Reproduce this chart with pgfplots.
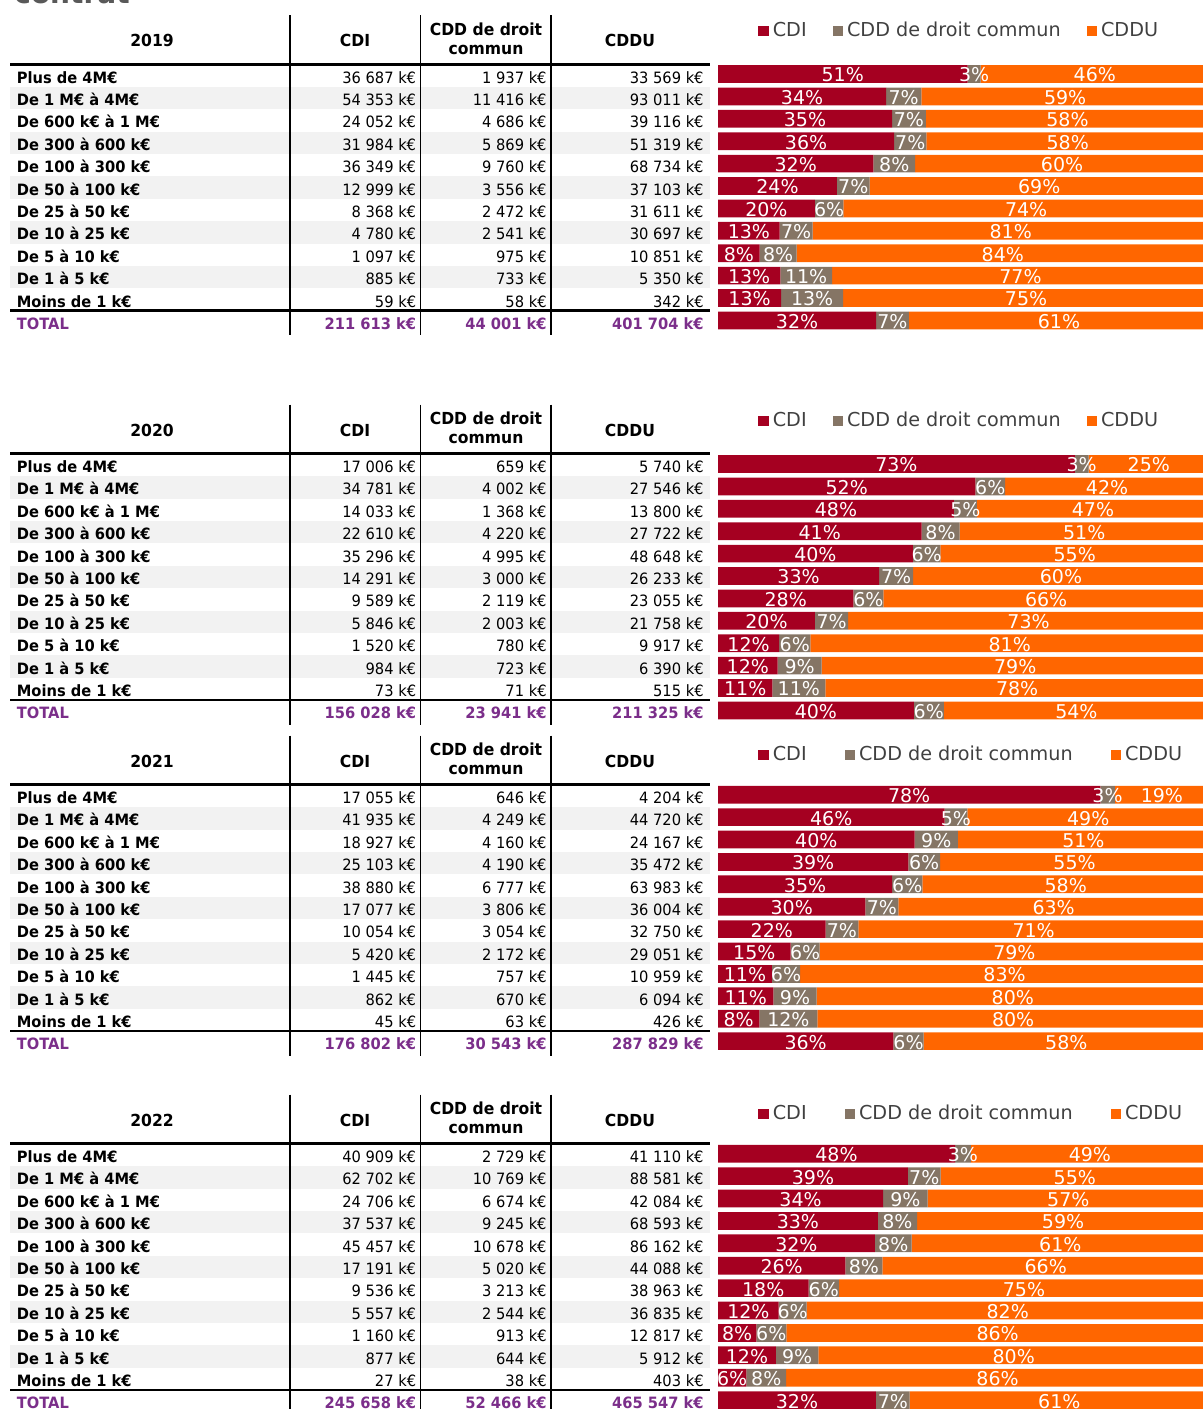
\documentclass[border=0pt]{standalone}
\usepackage{pgfplots}
\pgfplotsset{compat=1.18}
\usepackage{fontspec}
\setmainfont{DejaVu Sans}
\newfontfamily\tabfont{DejaVu Sans}[FakeStretch=0.94]
\definecolor{cdi}{HTML}{A50021}
\definecolor{cdd}{HTML}{857565}
\definecolor{cddu}{HTML}{FF6600}
\definecolor{rowshade}{HTML}{F2F2F2}
\definecolor{totc}{HTML}{7B2E8A}
\definecolor{legtxt}{HTML}{404040}
\definecolor{titc}{HTML}{595959}

\newcommand{\rowfont}{\tabfont\bfseries\fontsize{7.8}{9}\selectfont}
\newcommand{\valfont}{\tabfont\fontsize{7.8}{9}\selectfont}
\newcommand{\headfont}{\tabfont\bfseries\fontsize{8.3}{9}\selectfont}

% #1 = y (px) of first row text centre, #2 = year
\newcommand{\tableframe}[2]{%
  \foreach \k in {1,3,5,7,9}{%
    \fill[rowshade] (10,{#1-13+\k*22.4}) rectangle (710,{#1-13+(\k+1)*22.4});}
  \draw[line width=1.3pt] (10,#1-13) -- (710,#1-13);
  \draw[line width=1.3pt] (10,{#1-13+11*22.4}) -- (710,{#1-13+11*22.4});
  \foreach \xx in {290,420.5,551}{\draw[line width=0.6pt] (\xx,#1-62) -- (\xx,{#1+11*22.4+11.5});}
  \node[font=\headfont,anchor=center,inner sep=0pt] at (152,#1-36.5) {#2};
  \node[font=\headfont,anchor=center,inner sep=0pt] at (355,#1-36.5) {CDI};
  \node[font=\headfont,anchor=center,inner sep=0pt] at (486,#1-48.3) {CDD de droit};
  \node[font=\headfont,anchor=center,inner sep=0pt] at (486,#1-27.3) {commun};
  \node[font=\headfont,anchor=center,inner sep=0pt] at (630,#1-36.5) {CDDU};
}
\newcommand{\tablerows}[2]{%
  \foreach \lab/\a/\b/\c [count=\i from 0] in {#2}{%
    \node[anchor=base west,inner sep=0pt,font=\rowfont] at (16.5,{#1+5.7+\i*22.4}) {\lab};
    \node[anchor=base east,inner sep=0pt,font=\valfont] at (416.5,{#1+5.7+\i*22.4}) {\a\ k€};
    \node[anchor=base east,inner sep=0pt,font=\valfont] at (547,{#1+5.7+\i*22.4}) {\b\ k€};
    \node[anchor=base east,inner sep=0pt,font=\valfont] at (704,{#1+5.7+\i*22.4}) {\c\ k€};
  }}
\newcommand{\totalrow}[4]{%
  \node[anchor=base west,inner sep=0pt,font=\rowfont,text=totc] at (16.5,{#1+5.7+11*22.4}) {TOTAL};
  \node[anchor=base east,inner sep=0pt,font=\rowfont,text=totc] at (416.5,{#1+5.7+11*22.4}) {#2\ k€};
  \node[anchor=base east,inner sep=0pt,font=\rowfont,text=totc] at (547,{#1+5.7+11*22.4}) {#3\ k€};
  \node[anchor=base east,inner sep=0pt,font=\rowfont,text=totc] at (704,{#1+5.7+11*22.4}) {#4\ k€};
}

\pgfplotsset{
  sqlegend/.style={legend image code/.code={\fill[##1] (0pt,-2.6pt) rectangle (5.2pt,2.6pt);}},
  barblock/.style={
    xbar stacked, scale only axis,
    width=245.5pt, height=134.4pt,
    xmin=0, xmax=100, ymin=-0.5, ymax=11.5, y dir=reverse,
    axis lines=none, bar width=8.85pt,
    clip=false,
    point meta=rawx,
    nodes near coords={\pgfmathprintnumber[fixed,precision=0,assume math mode=true]{\pgfplotspointmeta}\%},
    every node near coord/.append style={font=\fontsize{9.5}{10}\selectfont, text=white, anchor=center, yshift=-0.5pt, inner sep=0pt},
    legend style={draw=none, fill=none, anchor=west, legend columns=-1,
      font=\fontsize{9.6}{11}\selectfont, text=legtxt,
      /tikz/every even column/.append style={column sep=11pt}},
  },
}

\begin{document}
\begin{tikzpicture}
\useasboundingbox (0,0) rectangle (601.5pt,-704.5pt);
\begin{scope}[x=0.5pt,y=-0.5pt]
% partly cut title at the top edge
\node[anchor=base west,inner sep=0pt,font=\bfseries\fontsize{14}{16}\selectfont,text=titc] at (14,3) {contrat};
% ---------- 2019
\tableframe{77.3}{2019}
\tablerows{77.3}{Plus de 4M€/36 687/1 937/33 569,
De 1 M€ à 4M€/54 353/11 416/93 011,
De 600 k€ à 1 M€/24 052/4 686/39 116,
De 300 à 600 k€/31 984/5 869/51 319,
De 100 à 300 k€/36 349/9 760/68 734,
De 50 à 100 k€/12 999/3 556/37 103,
De 25 à 50 k€/8 368/2 472/31 611,
De 10 à 25 k€/4 780/2 541/30 697,
De 5 à 10 k€/1 097/975/10 851,
De 1 à 5 k€/885/733/5 350,
Moins de 1 k€/59/58/342}
\totalrow{77.3}{211 613}{44 001}{401 704}
% ---------- 2020
\tableframe{466.7}{2020}
\tablerows{466.7}{Plus de 4M€/17 006/659/5 740,
De 1 M€ à 4M€/34 781/4 002/27 546,
De 600 k€ à 1 M€/14 033/1 368/13 800,
De 300 à 600 k€/22 610/4 220/27 722,
De 100 à 300 k€/35 296/4 995/48 648,
De 50 à 100 k€/14 291/3 000/26 233,
De 25 à 50 k€/9 589/2 119/23 055,
De 10 à 25 k€/5 846/2 003/21 758,
De 5 à 10 k€/1 520/780/9 917,
De 1 à 5 k€/984/723/6 390,
Moins de 1 k€/73/71/515}
\totalrow{466.7}{156 028}{23 941}{211 325}
% ---------- 2021
\tableframe{797.7}{2021}
\tablerows{797.7}{Plus de 4M€/17 055/646/4 204,
De 1 M€ à 4M€/41 935/4 249/44 720,
De 600 k€ à 1 M€/18 927/4 160/24 167,
De 300 à 600 k€/25 103/4 190/35 472,
De 100 à 300 k€/38 880/6 777/63 983,
De 50 à 100 k€/17 077/3 806/36 004,
De 25 à 50 k€/10 054/3 054/32 750,
De 10 à 25 k€/5 420/2 172/29 051,
De 5 à 10 k€/1 445/757/10 959,
De 1 à 5 k€/862/670/6 094,
Moins de 1 k€/45/63/426}
\totalrow{797.7}{176 802}{30 543}{287 829}
% ---------- 2022
\tableframe{1156.7}{2022}
\tablerows{1156.7}{Plus de 4M€/40 909/2 729/41 110,
De 1 M€ à 4M€/62 702/10 769/88 581,
De 600 k€ à 1 M€/24 706/6 674/42 084,
De 300 à 600 k€/37 537/9 245/68 593,
De 100 à 300 k€/45 457/10 678/86 162,
De 50 à 100 k€/17 191/5 020/44 088,
De 25 à 50 k€/9 536/3 213/38 963,
De 10 à 25 k€/5 557/2 544/36 835,
De 5 à 10 k€/1 160/913/12 817,
De 1 à 5 k€/877/644/5 912,
Moins de 1 k€/27/38/403}
\totalrow{1156.7}{245 658}{52 466}{465 547}
\end{scope}

% ---------- bars 2019
\begin{axis}[barblock, at={(359pt,-31.4pt)}, anchor=north west,
  legend style={at={(0.0693,1.1183)}}]
\addplot[fill=cdi,draw=none,sqlegend] coordinates {(50.82,0) (34.23,1) (35.44,2) (35.87,3) (31.65,4) (24.23,5) (19.71,6) (12.57,7) (8.49,8) (12.70,9) (12.85,10) (32.19,11)};
\addplot[fill=cdd,draw=none,sqlegend] coordinates {(2.68,0) (7.19,1) (6.91,2) (6.58,3) (8.49,4) (6.63,5) (5.82,6) (6.68,7) (7.54,8) (10.52,9) (12.64,10) (6.69,11)};
\addplot[fill=cddu,draw=none,sqlegend] coordinates {(46.49,0) (58.58,1) (57.65,2) (57.55,3) (59.86,4) (69.14,5) (74.46,6) (80.74,7) (83.97,8) (76.78,9) (74.51,10) (61.12,11)};
\legend{CDI,CDD de droit commun,CDDU}
\end{axis}
% ---------- bars 2020
\begin{axis}[barblock, at={(359pt,-226.4pt)}, anchor=north west,
  legend style={at={(0.0693,1.1183)}}]
\addplot[fill=cdi,draw=none,sqlegend] coordinates {(72.66,0) (52.44,1) (48.06,2) (41.45,3) (39.69,4) (32.83,5) (27.58,6) (19.75,7) (12.44,8) (12.15,9) (11.08,10) (39.87,11)};
\addplot[fill=cdd,draw=none,sqlegend] coordinates {(2.82,0) (6.03,1) (4.68,2) (7.74,3) (5.62,4) (6.89,5) (6.10,6) (6.77,7) (6.38,8) (8.93,9) (10.77,10) (6.12,11)};
\addplot[fill=cddu,draw=none,sqlegend] coordinates {(24.52,0) (41.53,1) (47.26,2) (50.81,3) (54.69,4) (60.28,5) (66.32,6) (73.48,7) (81.18,8) (78.92,9) (78.15,10) (54.01,11)};
\legend{CDI,CDD de droit commun,CDDU}
\end{axis}
% ---------- bars 2021
\begin{axis}[barblock, at={(359pt,-391.75pt)}, anchor=north west,
  legend style={at={(0.0693,1.106)},/tikz/every even column/.append style={column sep=17pt}}]
\addplot[fill=cdi,draw=none,sqlegend] coordinates {(77.86,0) (46.13,1) (40.05,2) (38.76,3) (35.46,4) (30.02,5) (21.92,6) (14.79,7) (10.98,8) (11.30,9) (8.43,10) (35.71,11)};
\addplot[fill=cdd,draw=none,sqlegend] coordinates {(2.95,0) (4.67,1) (8.80,2) (6.47,3) (6.18,4) (6.69,5) (6.66,6) (5.93,7) (5.75,8) (8.79,9) (11.80,10) (6.17,11)};
\addplot[fill=cddu,draw=none,sqlegend] coordinates {(19.19,0) (49.20,1) (51.15,2) (54.77,3) (58.36,4) (63.29,5) (71.42,6) (79.28,7) (83.27,8) (79.91,9) (79.77,10) (58.12,11)};
\legend{CDI,CDD de droit commun,CDDU}
\end{axis}
% ---------- bars 2022
\begin{axis}[barblock, at={(359pt,-571.25pt)}, anchor=north west,
  legend style={at={(0.0693,1.106)},/tikz/every even column/.append style={column sep=17pt}}]
\addplot[fill=cdi,draw=none,sqlegend] coordinates {(48.27,0) (38.69,1) (33.63,2) (32.54,3) (31.94,4) (25.93,5) (18.44,6) (12.37,7) (7.79,8) (11.80,9) (5.77,10) (32.17,11)};
\addplot[fill=cdd,draw=none,sqlegend] coordinates {(3.22,0) (6.65,1) (9.08,2) (8.01,3) (7.51,4) (7.57,5) (6.21,6) (5.66,7) (6.13,8) (8.66,9) (8.12,10) (6.87,11)};
\addplot[fill=cddu,draw=none,sqlegend] coordinates {(48.51,0) (54.66,1) (57.29,2) (59.45,3) (60.55,4) (66.49,5) (75.35,6) (81.97,7) (86.08,8) (79.54,9) (86.11,10) (60.96,11)};
\legend{CDI,CDD de droit commun,CDDU}
\end{axis}
\end{tikzpicture}
\end{document}
